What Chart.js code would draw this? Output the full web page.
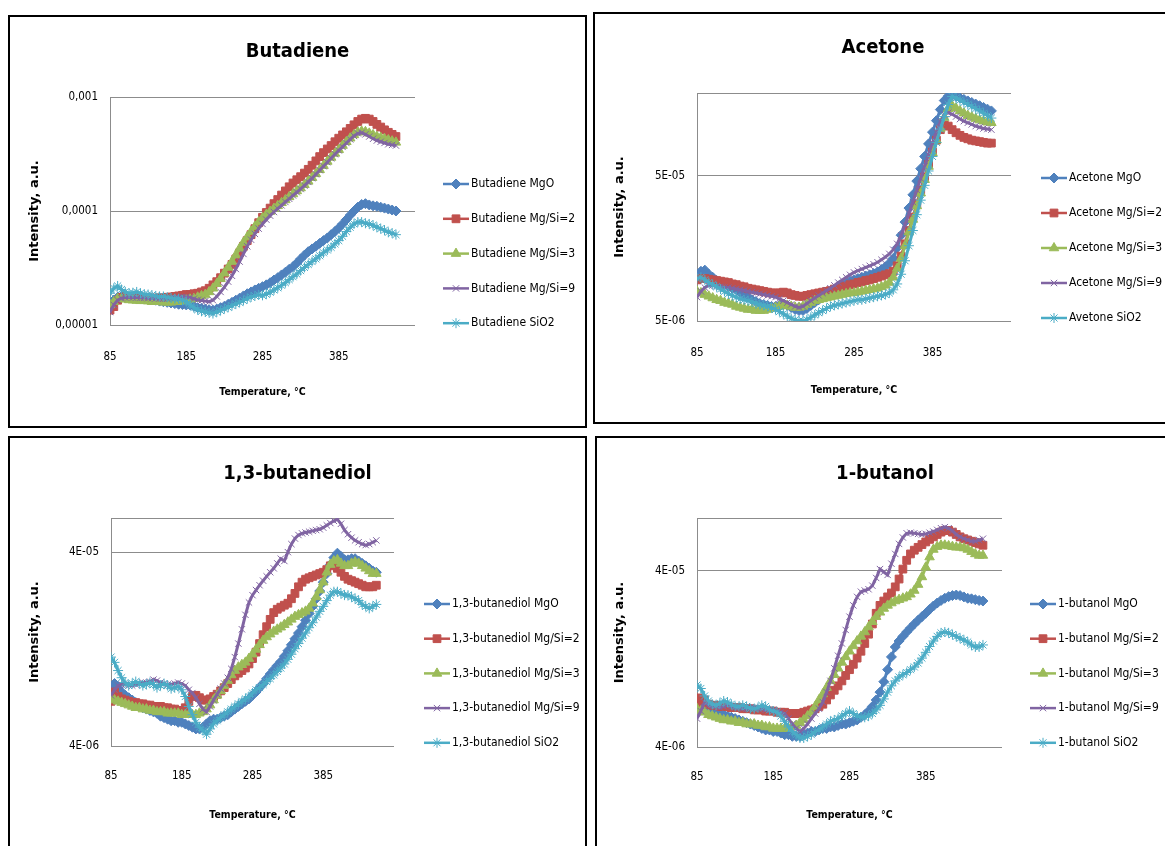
<!DOCTYPE html>
<html>
<head>
<meta charset="utf-8">
<title>TPD profiles</title>
<script src="https://cdn.jsdelivr.net/npm/chart.js@4.4.1/dist/chart.umd.min.js"></script>
<style>
  html, body { margin: 0; padding: 0; background: #fff; width: 1165px; height: 846px; overflow: hidden; }
  .panel { position: absolute; border: 2px solid #000; box-sizing: border-box; background: #fff; }
  .panel canvas { position: absolute; left: 0; top: 0; }
</style>
</head>
<body>
<div class="panel" style="left:8px;top:15px;width:579px;height:413px"><canvas id="butadieneChart" width="575" height="409"></canvas></div>
<div class="panel" style="left:593px;top:12px;width:580px;height:412px"><canvas id="acetoneChart" width="576" height="408"></canvas></div>
<div class="panel" style="left:8px;top:436px;width:579px;height:420px"><canvas id="butanediolChart" width="575" height="416"></canvas></div>
<div class="panel" style="left:595px;top:436px;width:580px;height:420px"><canvas id="butanolChart" width="576" height="416"></canvas></div>
<script>
// temperature, °C
const temps = [
  85, 90, 95, 100, 105, 110, 115, 120, 125, 130,
  135, 140, 145, 150, 155, 160, 165, 170, 175, 180,
  185, 190, 195, 200, 205, 210, 215, 220, 225, 230,
  235, 240, 245, 250, 255, 260, 265, 270, 275, 280,
  285, 290, 295, 300, 305, 310, 315, 320, 325, 330,
  335, 340, 345, 350, 355, 360, 365, 370, 375, 380,
  385, 390, 395, 400, 405, 410, 415, 420, 425, 430,
  435, 440, 445, 450, 455, 460
];
const tempTicks = [85, 185, 285, 385];

// all intensities below are in units of 1e-6 a.u.

// ---- Butadiene ----
const butadieneLabels = ['Butadiene MgO', 'Butadiene Mg/Si=2', 'Butadiene Mg/Si=3', 'Butadiene Mg/Si=9', 'Butadiene SiO2'];
const butadieneYTicks = [10, 100, 1000];
const butadieneYLabels = ['0,00001', '0,0001', '0,001'];
const butadieneMgO = [
  15.5, 16.5, 17.5, 17.8, 17.5, 17.3, 17.4, 17.2, 17.0, 17.0,
  16.8, 16.6, 16.5, 16.2, 16.0, 15.8, 15.6, 15.4, 15.2, 15.1,
  15.0, 15.0, 14.6, 14.2, 14.0, 13.8, 13.6, 13.5, 13.8, 14.2,
  14.6, 15.2, 15.8, 16.5, 17.2, 18.0, 18.8, 19.5, 20.3, 21.0,
  21.7, 22.5, 23.5, 24.8, 26.0, 27.5, 29.0, 30.8, 32.5, 35.0,
  38.0, 41.0, 44.0, 46.5, 49.0, 52.0, 55.0, 58.0, 62.0, 66.0,
  71.0, 77.0, 84.0, 92.0, 100, 108, 114, 116, 113, 111,
  110, 108, 106, 104, 102, 100
];
const butadieneMgSi2 = [
  13.5, 14.5, 16.5, 17.5, 17.8, 17.8, 17.6, 17.6, 17.5, 17.4,
  17.3, 17.2, 17.2, 17.3, 17.3, 17.5, 17.6, 17.8, 18.0, 18.2,
  18.5, 18.5, 18.8, 19.0, 19.5, 20.0, 21.0, 22.5, 24.0, 26.0,
  28.5, 31.0, 34.0, 38.0, 43.0, 49.0, 55.0, 62.0, 70.0, 79.0,
  88.0, 97.0, 106, 116, 126, 138, 150, 163, 176, 188,
  200, 215, 232, 252, 275, 300, 325, 350, 375, 405,
  435, 465, 495, 530, 570, 610, 640, 650, 640, 610,
  575, 545, 515, 490, 470, 450
];
const butadieneMgSi3 = [
  15.0, 16.0, 17.0, 17.0, 16.8, 16.6, 16.5, 16.4, 16.3, 16.3,
  16.2, 16.0, 16.0, 16.0, 15.8, 15.8, 15.8, 16.0, 16.0, 16.2,
  16.5, 16.8, 17.0, 17.5, 18.0, 18.5, 19.5, 21.0, 23.0, 25.5,
  28.5, 32.0, 36.0, 41.0, 47.0, 53.0, 59.0, 66.0, 73.0, 80.0,
  87.0, 93.0, 99.0, 105, 111, 118, 125, 133, 141, 150,
  159, 170, 182, 196, 212, 230, 250, 272, 295, 320,
  345, 375, 405, 435, 465, 490, 500, 495, 480, 465,
  450, 440, 430, 420, 410, 400
];
const butadieneMgSi9 = [
  13.0, 15.0, 16.5, 17.2, 17.4, 17.5, 17.4, 17.4, 17.3, 17.3,
  17.2, 17.2, 17.1, 17.0, 17.0, 17.0, 17.2, 17.3, 17.5, 17.6,
  17.6, 17.4, 17.0, 16.6, 16.4, 16.2, 16.0, 16.5, 17.8, 19.5,
  21.5, 24.0, 27.0, 31.0, 36.0, 42.0, 49.0, 56.0, 63.0, 70.0,
  77.0, 84.0, 91.0, 98.0, 105, 112, 120, 128, 137, 146,
  156, 167, 180, 194, 210, 228, 247, 268, 290, 315,
  340, 365, 395, 425, 455, 480, 485, 470, 450, 430,
  415, 405, 395, 385, 380, 375
];
const butadieneSiO2 = [
  19.0, 21.0, 22.0, 20.5, 19.5, 19.0, 19.2, 19.5, 19.0, 18.6,
  18.5, 18.3, 18.0, 17.8, 17.8, 17.5, 17.3, 17.0, 17.0, 16.5,
  16.0, 15.0, 14.2, 13.6, 13.2, 13.0, 12.8, 12.6, 13.0, 13.4,
  13.9, 14.3, 14.8, 15.3, 15.8, 16.4, 17.0, 17.6, 18.0, 18.4,
  18.2, 18.6, 19.4, 20.3, 21.2, 22.3, 23.5, 25.0, 26.5, 28.0,
  30.0, 32.0, 34.0, 36.0, 38.0, 40.5, 43.0, 45.5, 48.0, 51.5,
  55.0, 60.0, 66.0, 72.0, 77.0, 80.0, 80.0, 78.0, 77.0, 75.0,
  72.0, 70.0, 68.0, 65.0, 64.0, 62.0
];

// ---- Acetone ----
const acetoneLabels = ['Acetone MgO', 'Acetone Mg/Si=2', 'Acetone Mg/Si=3', 'Acetone Mg/Si=9', 'Avetone SiO2'];
const acetoneYTicks = [5, 50, 186];
const acetoneYLabels = ['5E-06', '5E-05', ''];
const acetoneMgO = [
  10.0, 11.0, 11.2, 10.5, 10.0, 9.5, 9.2, 8.9, 8.6, 8.4,
  8.2, 7.9, 7.6, 7.3, 7.0, 6.8, 6.6, 6.5, 6.4, 6.3,
  6.3, 6.4, 6.5, 6.4, 6.2, 6.0, 5.9, 5.9, 6.1, 6.4,
  6.7, 7.0, 7.3, 7.6, 7.9, 8.2, 8.5, 8.8, 9.1, 9.4,
  9.6, 9.8, 10.0, 10.2, 10.4, 10.6, 10.9, 11.3, 11.8, 12.5,
  13.5, 16.0, 19.5, 24.0, 30.0, 37.0, 46.0, 56.0, 68.0, 83.0,
  100, 120, 143, 165, 177, 180, 176, 172, 168, 164,
  160, 156, 152, 148, 144, 140
];
const acetoneMgSi2 = [
  9.6, 9.8, 9.8, 9.7, 9.6, 9.5, 9.4, 9.3, 9.2, 9.0,
  8.9, 8.7, 8.6, 8.4, 8.3, 8.2, 8.1, 8.0, 7.9, 7.8,
  7.8, 7.8, 7.9, 7.8, 7.6, 7.5, 7.4, 7.4, 7.5, 7.6,
  7.7, 7.8, 7.9, 8.0, 8.1, 8.3, 8.4, 8.6, 8.7, 8.9,
  9.0, 9.2, 9.3, 9.5, 9.6, 9.8, 10.0, 10.2, 10.4, 10.6,
  11.0, 12.0, 14.0, 17.0, 21.0, 26.0, 32.0, 40.0, 49.0, 60.0,
  73.0, 88.0, 104, 112, 110, 104, 99.0, 95.0, 92.0, 90.0,
  88.0, 87.0, 86.0, 85.0, 84.0, 84.0
];
const acetoneMgSi3 = [
  8.0, 7.8, 7.6, 7.4, 7.2, 7.0, 6.9, 6.7, 6.6, 6.5,
  6.3, 6.2, 6.1, 6.0, 6.0, 5.9, 5.9, 5.9, 6.0, 6.1,
  6.2, 6.3, 6.4, 6.4, 6.3, 6.2, 6.2, 6.3, 6.5, 6.7,
  6.9, 7.0, 7.1, 7.2, 7.3, 7.4, 7.5, 7.6, 7.7, 7.8,
  7.8, 7.9, 8.0, 8.1, 8.2, 8.3, 8.4, 8.6, 8.8, 9.2,
  10.0, 11.5, 13.5, 16.5, 20.5, 25.0, 31.0, 38.0, 47.0, 58.0,
  72.0, 88.0, 106, 126, 145, 152, 146, 140, 135, 130,
  127, 124, 121, 119, 117, 116
];
const acetoneMgSi9 = [
  7.3, 8.0, 8.5, 8.8, 8.8, 8.7, 8.6, 8.5, 8.5, 8.4,
  8.3, 8.2, 8.1, 8.0, 7.9, 7.8, 7.7, 7.6, 7.5, 7.4,
  7.3, 7.1, 6.9, 6.7, 6.5, 6.3, 6.2, 6.3, 6.6, 6.9,
  7.2, 7.5, 7.8, 8.1, 8.4, 8.8, 9.2, 9.6, 10.0, 10.4,
  10.8, 11.1, 11.4, 11.7, 12.0, 12.3, 12.7, 13.2, 13.8, 14.5,
  15.5, 17.0, 19.5, 23.0, 27.5, 33.0, 40.0, 48.0, 58.0, 70.0,
  84.0, 100, 118, 132, 136, 133, 128, 123, 119, 116,
  113, 110, 108, 106, 105, 104
];
const acetoneSiO2 = [
  9.8, 10.0, 9.6, 9.2, 8.9, 8.6, 8.3, 8.0, 7.7, 7.5,
  7.3, 7.1, 7.0, 6.9, 6.8, 6.6, 6.5, 6.4, 6.3, 6.2,
  6.0, 5.8, 5.6, 5.4, 5.2, 5.1, 5.0, 5.0, 5.1, 5.3,
  5.5, 5.7, 5.9, 6.1, 6.3, 6.4, 6.5, 6.6, 6.7, 6.8,
  6.9, 7.0, 7.0, 7.1, 7.2, 7.3, 7.4, 7.5, 7.6, 7.8,
  8.2, 9.0, 10.5, 13.0, 16.5, 21.0, 27.0, 34.0, 43.0, 54.0,
  68.0, 85.0, 105, 128, 155, 176, 172, 166, 160, 155,
  150, 145, 140, 135, 130, 125
];

// ---- 1,3-butanediol ----
const butanediolLabels = ['1,3-butanediol MgO', '1,3-butanediol Mg/Si=2', '1,3-butanediol Mg/Si=3', '1,3-butanediol Mg/Si=9', '1,3-butanediol SiO2'];
const butanediolYTicks = [4, 40, 60];
const butanediolYLabels = ['4E-06', '4E-05', ''];
const butanediolMgO = [
  7.8, 8.4, 8.0, 7.6, 7.3, 7.1, 6.9, 6.7, 6.5, 6.3,
  6.2, 6.1, 6.0, 5.9, 5.7, 5.6, 5.5, 5.4, 5.4, 5.3,
  5.3, 5.2, 5.1, 5.0, 4.9, 4.9, 5.0, 5.2, 5.4, 5.5,
  5.5, 5.6, 5.7, 5.8, 6.0, 6.2, 6.4, 6.6, 6.8, 7.0,
  7.3, 7.6, 8.0, 8.4, 8.9, 9.4, 9.9, 10.4, 10.9, 11.6,
  12.4, 13.3, 14.3, 15.3, 16.5, 17.8, 19.3, 21.0, 23.0, 25.2,
  28.0, 31.0, 34.5, 37.5, 39.5, 38.0, 36.5, 36.5, 37.0, 37.0,
  36.0, 35.0, 34.0, 33.0, 32.0, 31.5
];
const butanediolMgSi2 = [
  6.8, 7.6, 7.2, 7.0, 6.9, 6.8, 6.7, 6.7, 6.6, 6.6,
  6.5, 6.5, 6.4, 6.4, 6.4, 6.3, 6.3, 6.2, 6.2, 6.1,
  6.1, 6.3, 6.8, 7.2, 7.3, 7.1, 6.9, 6.9, 7.0, 7.2,
  7.4, 7.7, 8.0, 8.4, 8.8, 9.2, 9.5, 9.8, 10.1, 10.6,
  11.3, 12.2, 13.5, 15.0, 16.5, 18.0, 19.5, 20.3, 20.8, 21.3,
  21.8, 23.0, 24.5, 26.5, 28.0, 29.0, 29.5, 30.0, 30.5, 31.0,
  31.5, 32.5, 34.0, 34.5, 33.0, 31.5, 30.0, 29.0, 28.5, 28.0,
  27.5, 27.0, 26.5, 26.5, 26.5, 27.0
];
const butanediolMgSi3 = [
  7.0, 6.9, 6.8, 6.7, 6.6, 6.5, 6.4, 6.3, 6.3, 6.2,
  6.2, 6.1, 6.1, 6.0, 6.0, 6.0, 5.9, 5.9, 5.9, 5.9,
  5.8, 5.8, 5.8, 5.8, 5.8, 5.9, 6.0, 6.2, 6.5, 6.9,
  7.3, 7.7, 8.2, 8.7, 9.3, 9.8, 10.2, 10.5, 10.8, 11.3,
  11.9, 12.6, 13.3, 14.0, 14.6, 15.1, 15.6, 16.0, 16.4, 16.9,
  17.4, 18.0, 18.6, 19.0, 19.4, 19.8, 20.5, 21.8, 23.5, 25.5,
  28.0, 31.5, 34.5, 36.0, 36.5, 35.0, 34.0, 34.0, 35.0, 35.5,
  35.0, 34.0, 33.0, 32.0, 31.0, 31.0
];
const butanediolMgSi9 = [
  7.3, 7.8, 8.2, 8.3, 8.3, 8.2, 8.2, 8.3, 8.4, 8.5,
  8.5, 8.6, 8.8, 8.7, 8.5, 8.4, 8.3, 8.3, 8.4, 8.5,
  8.4, 8.2, 7.8, 7.5, 7.1, 6.6, 6.2, 6.0, 6.4, 6.9,
  7.4, 7.9, 8.4, 9.0, 10.0, 11.5, 13.5, 16.0, 19.0, 22.0,
  24.0, 25.5, 27.0, 28.5, 30.0, 31.5, 33.0, 35.0, 37.0, 36.0,
  40.0, 44.0, 47.0, 49.0, 50.0, 50.5, 51.0, 51.5, 52.0, 52.5,
  53.5, 55.0, 56.5, 58.0, 59.0, 56.0, 52.0, 49.5, 47.5, 46.0,
  45.0, 44.0, 43.5, 44.0, 45.0, 46.0
];
const butanediolSiO2 = [
  11.5, 10.8, 9.8, 9.0, 8.5, 8.2, 8.4, 8.6, 8.4, 8.2,
  8.3, 8.5, 8.3, 8.0, 8.2, 8.4, 8.2, 7.9, 8.0, 8.1,
  7.8, 7.2, 6.4, 5.8, 5.3, 5.0, 4.8, 4.6, 4.9, 5.2,
  5.4, 5.6, 5.8, 6.0, 6.2, 6.4, 6.6, 6.8, 7.0, 7.2,
  7.5, 7.8, 8.0, 8.3, 8.6, 8.9, 9.3, 9.7, 10.1, 10.6,
  11.2, 11.9, 12.7, 13.5, 14.4, 15.3, 16.3, 17.3, 18.5, 19.8,
  21.0, 22.5, 24.0, 25.0, 25.0, 24.5, 24.0, 24.0, 23.5, 23.0,
  22.5, 21.5, 21.0, 20.5, 21.0, 21.5
];

// ---- 1-butanol ----
const butanolLabels = ['1-butanol MgO', '1-butanol Mg/Si=2', '1-butanol Mg/Si=3', '1-butanol Mg/Si=9', '1-butanol SiO2'];
const butanolYTicks = [4, 40, 80];
const butanolYLabels = ['4E-06', '4E-05', ''];
const butanolMgO = [
  6.9, 7.2, 7.0, 6.7, 6.5, 6.3, 6.2, 6.1, 6.0, 5.9,
  5.8, 5.7, 5.6, 5.5, 5.4, 5.3, 5.2, 5.1, 5.0, 5.0,
  4.9, 4.9, 4.8, 4.7, 4.7, 4.6, 4.6, 4.6, 4.7, 4.8,
  4.9, 4.9, 5.0, 5.1, 5.1, 5.2, 5.2, 5.3, 5.4, 5.4,
  5.5, 5.6, 5.7, 5.9, 6.1, 6.4, 6.8, 7.4, 8.2, 9.4,
  11.0, 13.0, 14.8, 16.0, 17.0, 18.0, 19.0, 20.0, 21.0, 22.0,
  23.0, 24.2, 25.3, 26.3, 27.2, 28.0, 28.6, 29.0, 29.2, 29.0,
  28.5, 28.0, 27.8, 27.5, 27.2, 27.0
];
const butanolMgSi2 = [
  6.9, 7.6, 7.4, 7.0, 6.9, 6.9, 6.8, 6.8, 6.8, 6.7,
  6.7, 6.7, 6.6, 6.6, 6.6, 6.5, 6.5, 6.5, 6.4, 6.4,
  6.4, 6.3, 6.3, 6.3, 6.2, 6.2, 6.2, 6.2, 6.3, 6.4,
  6.5, 6.6, 6.8, 7.0, 7.4, 7.9, 8.4, 8.9, 9.5, 10.2,
  11.0, 11.8, 12.8, 14.0, 15.5, 17.5, 20.0, 23.0, 25.5, 27.0,
  28.5, 30.0, 32.5, 36.0, 41.0, 46.0, 50.0, 52.5, 54.5, 56.5,
  58.5, 60.5, 62.5, 64.5, 66.5, 68.0, 68.0, 66.5, 64.5, 62.5,
  61.0, 60.0, 59.0, 58.0, 57.0, 56.0
];
const butanolMgSi3 = [
  6.6, 6.4, 6.3, 6.1, 6.0, 5.9, 5.8, 5.7, 5.7, 5.6,
  5.6, 5.5, 5.5, 5.4, 5.4, 5.4, 5.3, 5.3, 5.2, 5.2,
  5.1, 5.1, 5.1, 5.1, 5.1, 5.2, 5.3, 5.5, 5.7, 6.0,
  6.3, 6.8, 7.4, 8.0, 8.7, 9.5, 10.3, 11.2, 12.1, 13.0,
  14.0, 15.0, 16.0, 17.0, 18.0, 19.2, 20.6, 22.0, 23.3, 24.5,
  25.5, 26.3, 27.0, 27.5, 28.0, 28.5, 29.5, 31.0, 33.5, 37.0,
  42.0, 48.0, 53.0, 55.0, 56.0, 56.0, 55.5, 55.0, 54.5, 54.5,
  54.0, 53.0, 51.5, 50.0, 49.0, 49.0
];
const butanolMgSi9 = [
  5.8, 6.4, 7.2, 6.9, 6.8, 6.8, 6.7, 6.8, 6.9, 6.8,
  6.7, 6.7, 6.6, 6.6, 6.7, 6.7, 6.6, 6.6, 6.5, 6.5,
  6.5, 6.4, 6.3, 6.2, 5.8, 5.4, 5.1, 4.9, 5.1, 5.4,
  5.8, 6.2, 6.6, 7.2, 8.2, 9.5, 11.2, 13.2, 15.5, 18.5,
  22.0, 25.5, 28.5, 30.5, 31.0, 31.5, 33.0, 36.5, 41.0, 39.5,
  38.0, 44.0, 50.0, 57.0, 62.0, 65.5, 66.0, 65.5, 65.0, 64.5,
  65.0, 66.0, 67.0, 68.5, 70.0, 71.0, 70.0, 67.5, 64.5, 62.5,
  61.0, 60.0, 59.0, 59.0, 60.0, 61.0
];
const butanolSiO2 = [
  9.0, 8.6, 7.8, 7.3, 7.0, 6.9, 7.1, 7.3, 7.2, 7.0,
  6.8, 6.8, 6.9, 6.8, 6.6, 6.6, 6.7, 6.9, 6.8, 6.5,
  6.4, 6.3, 6.0, 5.6, 5.2, 4.9, 4.7, 4.5, 4.5, 4.6,
  4.7, 4.9, 5.0, 5.2, 5.4, 5.6, 5.7, 5.8, 6.0, 6.2,
  6.4, 6.2, 6.0, 5.9, 5.9, 6.0, 6.2, 6.5, 6.9, 7.5,
  8.2, 8.9, 9.5, 10.0, 10.3, 10.6, 11.0, 11.4, 12.0, 12.8,
  13.8, 14.9, 16.0, 17.0, 17.8, 18.0, 17.8, 17.4, 17.0, 16.6,
  16.2, 15.8, 15.2, 14.8, 14.8, 15.2
];

// series styling (Office 2007 palette, Excel marker shapes)
const seriesColors = ['#4F81BD', '#C0504D', '#9BBB59', '#8064A2', '#4BACC6'];
const markerShapes = ['rectRot', 'rect', 'triangle', 'crossRot', 'star'];
const markerRadius = [5, 5.5, 5.5, 4.5, 5];

const narrow = "'Liberation Sans Narrow', 'DejaVu Sans Condensed', 'Arial Narrow', sans-serif";
Chart.defaults.font.family = narrow;
Chart.defaults.color = '#000';

const TITLE_SIZE = 20, TICK_SIZE = 11.5, XTITLE_SIZE = 10.5, YTITLE_SIZE = 13, LEGEND_SIZE = 12;

// Excel-like legend: short line with the marker in the middle, text to the right
const sideLegend = {
  id: 'sideLegend',
  afterDraw(chart, args, opts) {
    const ctx = chart.ctx;
    ctx.save();
    chart.data.datasets.forEach((ds, i) => {
      const y = opts.y + i * opts.step;
      ctx.strokeStyle = ds.borderColor;
      ctx.lineWidth = 2.5;
      ctx.beginPath();
      ctx.moveTo(opts.x, y);
      ctx.lineTo(opts.x + 26, y);
      ctx.stroke();
      ctx.fillStyle = ds.pointBackgroundColor;
      ctx.strokeStyle = ds.pointBorderColor;
      ctx.lineWidth = 1;
      Chart.helpers.drawPoint(ctx, {
        pointStyle: ds.pointStyle, radius: ds.pointRadius, borderWidth: 1.2, rotation: 0
      }, opts.x + 13, y);
      ctx.fillStyle = '#000';
      ctx.font = LEGEND_SIZE + 'px ' + narrow;
      ctx.textAlign = 'left';
      ctx.textBaseline = 'middle';
      ctx.fillText(ds.label, opts.x + 28, y);
    });
    ctx.restore();
  }
};

function makeChart(id, title, labels, series, yTicks, yLabels, box) {
  const canvas = document.getElementById(id);
  const W = canvas.width, H = canvas.height;
  const titleLH = TITLE_SIZE * 1.2, tickLH = TICK_SIZE * 1.2, xTitleLH = XTITLE_SIZE * 1.2, yTitleLH = YTITLE_SIZE * 1.2;

  const datasets = series.map((values, i) => ({
    label: labels[i],
    data: values.map((v, k) => ({ x: temps[k], y: v })),
    borderColor: seriesColors[i],
    backgroundColor: seriesColors[i],
    pointBackgroundColor: seriesColors[i],
    pointBorderColor: seriesColors[i],
    pointStyle: markerShapes[i],
    pointRadius: markerRadius[i],
    pointBorderWidth: 1,
    borderWidth: 3,
    tension: 0,
    order: series.length - 1 - i
  }));

  return new Chart(canvas, {
    type: 'line',
    data: { datasets },
    plugins: [sideLegend],
    options: {
      responsive: false,
      animation: false,
      events: [],
      layout: { padding: 0 },
      plugins: {
        legend: { display: false },
        tooltip: { enabled: false },
        title: {
          display: true,
          text: title,
          color: '#000',
          font: { family: narrow, size: TITLE_SIZE, weight: 'bold' },
          padding: { top: box.titleY - titleLH / 2, bottom: box.top - box.titleY - titleLH / 2 }
        },
        sideLegend: { x: box.legendX, y: box.legendY, step: box.legendStep }
      },
      scales: {
        x: {
          type: 'linear',
          min: 85,
          max: 485,
          afterBuildTicks: (s) => { s.ticks = tempTicks.map(v => ({ value: v })); },
          afterFit: (s) => { s.height = H - box.bottom; },
          grid: { display: false, drawTicks: false },
          border: { display: false },
          ticks: {
            autoSkip: false, maxRotation: 0, color: '#000',
            font: { size: TICK_SIZE },
            padding: box.xLabelY - box.bottom - tickLH / 2
          },
          title: {
            display: true,
            text: 'Temperature, °C',
            color: '#000',
            font: { size: XTITLE_SIZE, weight: 'bold' },
            padding: { top: 0, bottom: H - box.xTitleY - xTitleLH / 2 }
          }
        },
        y: {
          type: 'logarithmic',
          min: yTicks[0],
          max: yTicks[yTicks.length - 1],
          afterBuildTicks: (s) => { s.ticks = yTicks.map(v => ({ value: v })); },
          afterFit: (s) => { s.width = box.left; },
          grid: { color: '#8c8c8c', lineWidth: 1, drawTicks: false },
          border: { display: true, color: '#8c8c8c', width: 1 },
          ticks: {
            autoSkip: false, color: '#000',
            font: { size: TICK_SIZE },
            padding: 12,
            callback: (v, i) => yLabels[i]
          },
          title: {
            display: true,
            text: 'Intensity, a.u.',
            color: '#000',
            font: { family: "'DejaVu Sans', sans-serif", size: YTITLE_SIZE, weight: 'bold' },
            padding: { top: box.yTitleX - yTitleLH / 2, bottom: 0 }
          }
        },
        // empty right-hand box that holds the space used by the legend
        legendSpace: {
          type: 'linear',
          position: 'right',
          grid: { display: false, drawTicks: false },
          border: { display: false },
          ticks: { display: false },
          afterFit: (s) => { s.width = W - box.right; }
        }
      }
    }
  });
}

makeChart('butadieneChart', 'Butadiene', butadieneLabels,
  [butadieneMgO, butadieneMgSi2, butadieneMgSi3, butadieneMgSi9, butadieneSiO2],
  butadieneYTicks, butadieneYLabels,
  { left: 100, right: 405, top: 80, bottom: 308, titleY: 35, yTitleX: 25, xLabelY: 340, xTitleY: 375,
    legendX: 433, legendY: 167, legendStep: 34.8 });

makeChart('acetoneChart', 'Acetone', acetoneLabels,
  [acetoneMgO, acetoneMgSi2, acetoneMgSi3, acetoneMgSi9, acetoneSiO2],
  acetoneYTicks, acetoneYLabels,
  { left: 102, right: 416, top: 79, bottom: 307, titleY: 34, yTitleX: 25, xLabelY: 339, xTitleY: 376,
    legendX: 446, legendY: 164, legendStep: 35 });

makeChart('butanediolChart', '1,3-butanediol', butanediolLabels,
  [butanediolMgO, butanediolMgSi2, butanediolMgSi3, butanediolMgSi9, butanediolSiO2],
  butanediolYTicks, butanediolYLabels,
  { left: 101, right: 384, top: 80, bottom: 308, titleY: 36, yTitleX: 25, xLabelY: 338, xTitleY: 377,
    legendX: 414, legendY: 166, legendStep: 34.7 });

makeChart('butanolChart', '1-butanol', butanolLabels,
  [butanolMgO, butanolMgSi2, butanolMgSi3, butanolMgSi9, butanolSiO2],
  butanolYTicks, butanolYLabels,
  { left: 100, right: 405, top: 80, bottom: 309, titleY: 36, yTitleX: 23, xLabelY: 339, xTitleY: 377,
    legendX: 433, legendY: 166, legendStep: 34.7 });
</script>
</body>
</html>
